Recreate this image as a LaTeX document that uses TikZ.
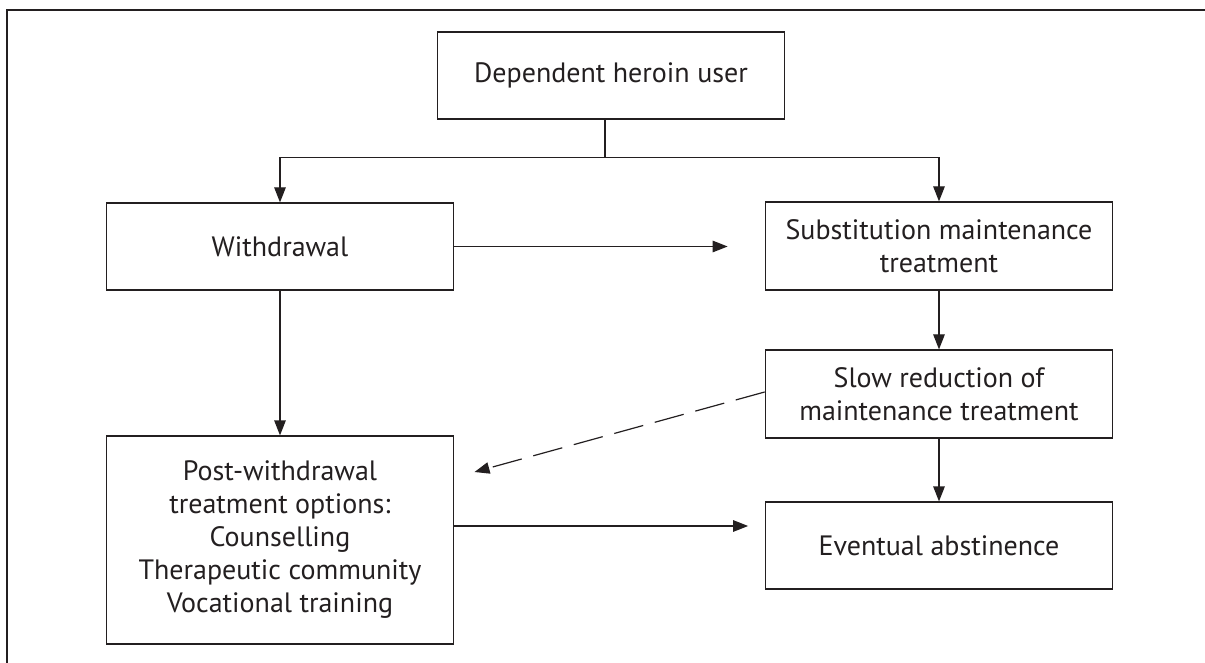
\documentclass[tikz,border=0pt]{standalone}
\usepackage{fontspec}
\setmainfont{PT Sans}
\usepackage{xcolor}
\usetikzlibrary{arrows.meta,positioning,calc}
\definecolor{flowink}{RGB}{35,31,32}

\tikzset{
  flowbox/.style={draw=flowink, line width=0.6pt, text=flowink, align=center,
    minimum width=173.75pt, minimum height=43.5pt, inner sep=2pt,
    font=\fontsize{14}{16.5}\selectfont},
  flowarrow/.style={draw=flowink, line width=0.6pt, -{Triangle[length=7.5pt, width=5.75pt]}},
  flowdash/.style={flowarrow, dash pattern=on 15pt off 6pt}
}

\begin{document}
\begin{tikzpicture}[x=0.5pt, y=-0.5pt]
    \useasboundingbox (0,0) rectangle (1205,663);
    % Frame
    \draw[flowink, line width=0.6pt] (7,663) -- (7,10) -- (1205,10);

    % Boxes
    \node[flowbox] (user) at (611,75.5) {Dependent heroin user};
    \node[flowbox] (withdraw) at (280,246.5) {Withdrawal};
    \node[flowbox, minimum height=44pt] (subst) at (939,246) {Substitution maintenance\\treatment};
    \node[flowbox, minimum height=44pt] (slow) at (939,394) {Slow reduction of\\maintenance treatment};
    \node[flowbox] (abst) at (939,545.5) {Eventual abstinence};
    \node[flowbox, minimum height=104pt] (post) at (280,540) {Post-withdrawal\\treatment options:\\Counselling\\Therapeutic community\\Vocational training};

    % Connectors
    \coordinate (split) at (605,157.5);
    \draw[flowink, line width=0.6pt] (user.south -| split) -- (split);
    \draw[flowarrow] (split) -| (withdraw);
    \draw[flowarrow] (split) -| (subst);
    \draw[flowarrow, shorten >=18.5pt] (withdraw.east) -- (withdraw.east -| subst.west);
    \draw[flowarrow] (withdraw) -- (post);
    \draw[flowarrow] (subst) -- (slow);
    \draw[flowarrow] (slow) -- (abst);
    \draw[flowarrow, shorten >=8.25pt] ([yshift=7pt]post.east) -- ([yshift=7pt]post.east -| abst.west);
    \coordinate (dashtip) at (474.5,472);
    \draw[flowdash] ([yshift=1pt]slow.west) -- (dashtip);
\end{tikzpicture}
\end{document}
